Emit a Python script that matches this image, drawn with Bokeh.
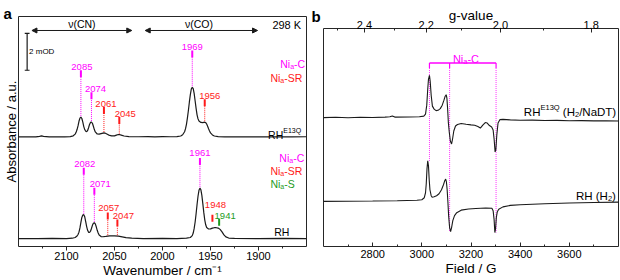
import numpy as np
from bokeh.plotting import figure
from bokeh.layouts import row
from bokeh.models import (Range1d, FixedTicker, CustomJSTickFormatter, LinearAxis,
                          Title, Arrow, NormalHead)
from bokeh.core.properties import value
from bokeh.embed import file_html
from bokeh.resources import INLINE

FONT = "Liberation Sans"
INK = "#1a1a1a"
FRAME = "#262626"
MAGENTA = "#FF00FF"
RED = "#FF1A1A"
GREEN = "#1E9B1E"
STATE_COLOR = {"C": MAGENTA, "SR": RED, "S": GREEN}

# ===================== panel a : IR data =====================
ir_e13q_wn = [2150, 2140, 2132, 2128, 2126, 2124, 2118, 2110, 2102, 2096, 2093, 2091, 2090, 2089,
              2088, 2087, 2086, 2085, 2084, 2083, 2082, 2081, 2080, 2079, 2078, 2077, 2076, 2075,
              2074, 2073, 2072, 2071, 2070, 2068, 2066, 2064, 2062, 2061, 2060, 2058, 2056, 2053,
              2050, 2048, 2046, 2045, 2043, 2040, 2035, 2025, 2015, 2008, 2000, 1992, 1985, 1981,
              1979, 1977, 1976, 1975, 1974, 1973, 1972, 1971, 1970, 1969, 1968, 1967, 1966, 1965,
              1964, 1963, 1962, 1960, 1958, 1956, 1955, 1954, 1953, 1952, 1951, 1950, 1948, 1946,
              1942, 1935, 1920, 1900, 1880, 1865, 1850]
ir_e13q_abs = [0.00, 0.01, 0.00, 0.03, 0.06, 0.03, 0.00, 0.01, 0.00, 0.02, 0.06, 0.15, 0.25, 0.40,
               0.60, 0.85, 1.02, 1.08, 1.00, 0.80, 0.56, 0.40, 0.31, 0.29, 0.35, 0.50, 0.68, 0.79,
               0.81, 0.74, 0.58, 0.40, 0.27, 0.16, 0.15, 0.18, 0.21, 0.22, 0.21, 0.16, 0.10, 0.06,
               0.06, 0.10, 0.13, 0.13, 0.10, 0.05, 0.02, 0.01, 0.02, 0.00, 0.02, 0.01, 0.02, 0.05,
               0.12, 0.28, 0.45, 0.70, 1.05, 1.45, 1.90, 2.30, 2.60, 2.70, 2.62, 2.35, 1.95, 1.55,
               1.20, 0.98, 0.86, 0.79, 0.78, 0.80, 0.78, 0.70, 0.58, 0.44, 0.32, 0.22, 0.11, 0.05,
               0.02, 0.00, 0.01, 0.00, 0.01, 0.00, 0.01]

ir_rh_wn = [2150, 2130, 2115, 2100, 2094, 2091, 2089, 2088, 2087, 2086, 2085, 2084, 2083, 2082,
            2081, 2080, 2079, 2078, 2077, 2076, 2075, 2074, 2073, 2072, 2071, 2070, 2069, 2068,
            2067, 2066, 2064, 2062, 2059, 2055, 2050, 2046, 2042, 2038, 2032, 2020, 2000, 1985,
            1975, 1971, 1969, 1968, 1967, 1966, 1965, 1964, 1963, 1962, 1961, 1960, 1959, 1958,
            1957, 1956, 1955, 1954, 1952, 1950, 1948, 1946, 1944, 1942, 1940, 1938, 1936, 1934,
            1931, 1925, 1900, 1875, 1850]
ir_rh_abs = [0.00, 0.00, 0.01, 0.00, 0.02, 0.06, 0.14, 0.22, 0.35, 0.58, 0.88, 1.15, 1.28, 1.30,
             1.18, 0.92, 0.65, 0.45, 0.34, 0.33, 0.40, 0.55, 0.72, 0.83, 0.86, 0.80, 0.64, 0.45,
             0.30, 0.19, 0.11, 0.10, 0.12, 0.15, 0.15, 0.13, 0.09, 0.05, 0.02, 0.00, 0.01, 0.00,
             0.02, 0.06, 0.16, 0.30, 0.55, 0.90, 1.35, 1.85, 2.30, 2.62, 2.74, 2.65, 2.35, 1.90,
             1.42, 1.02, 0.75, 0.60, 0.52, 0.53, 0.57, 0.59, 0.59, 0.57, 0.50, 0.36, 0.20, 0.09,
             0.03, 0.01, 0.00, 0.01, 0.00]

e13q_peak_wn = [2085, 2074, 2061, 2045, 1969, 1956]
e13q_peak_state = ["C", "C", "SR", "SR", "C", "SR"]
rh_peak_wn = [2082, 2071, 2057, 2047, 1961, 1948, 1941]
rh_peak_state = ["C", "C", "SR", "SR", "C", "SR", "S"]

wn_major = [2100, 2050, 2000, 1950, 1900]
wn_minor = [2125, 2075, 2025, 1975, 1925, 1875]
scale_bar_mod = 2.0

# ===================== panel b : EPR data =====================
epr_e13q_field = [2600, 2650, 2700, 2750, 2800, 2850, 2870, 2880, 2890, 2950, 2990, 3008, 3015,
                  3020, 3024, 3027, 3031, 3034, 3038, 3043, 3050, 3058, 3066, 3075, 3083, 3090,
                  3095, 3099, 3102, 3105, 3108, 3112, 3116, 3121, 3125, 3130, 3137, 3145, 3160,
                  3180, 3200, 3215, 3228, 3238, 3248, 3258, 3266, 3275, 3284, 3290, 3294, 3298,
                  3301, 3305, 3310, 3318, 3330, 3360, 3400, 3450, 3500, 3550, 3600, 3650, 3700,
                  3750, 3800]
epr_e13q_sig = [1.5, 1.8, 1.4, 1.9, 1.6, 2.0, 2.3, 3.2, 2.0, 2.1, 2.4, 3.0, 5.0, 14, 30, 40, 44,
                38, 24, 13, 10, 8.5, 8.8, 10.5, 14, 19, 23, 24.5, 21, 10, -4, -14, -22, -25, -20,
                -12, -7, -5.5, -4.5, -5.2, -5.8, -6.2, -7.5, -9, -6, -3.5, -4, -6.5, -8, -11, -20,
                -33, -31, -16, -4, -0.5, -0.3, -0.8, -1.2, -1.0, -1.4, -1.3, -1.6, -1.5, -1.8,
                -1.7, -1.9]

epr_rh_field = [2600, 2700, 2800, 2900, 2980, 3000, 3010, 3015, 3018, 3021, 3024, 3027, 3030,
                3033, 3038, 3042, 3050, 3060, 3070, 3080, 3088, 3093, 3097, 3100, 3103, 3106,
                3109, 3113, 3117, 3121, 3126, 3133, 3142, 3160, 3190, 3220, 3260, 3285, 3290,
                3294, 3297, 3300, 3303, 3307, 3313, 3330, 3360, 3400, 3500, 3600, 3700, 3800]
epr_rh_sig = [0.3, 0.5, 0.7, 1.0, 1.5, 2.0, 4.0, 9.0, 18, 33, 41, 36, 22, 12, 6.0, 4.5, 5.0,
              6.0, 8.0, 12, 17, 21, 22.7, 20, 12, 0, -14, -26, -30, -26, -19, -14, -11, -8.5,
              -7.3, -6.8, -6.3, -6.6, -9, -18, -31, -27, -16, -10, -7.5, -5.2, -3.7, -3.0, -2.0,
              -1.3, -0.8, -0.4]

nic_field = [3031, 3113, 3302]
field_major = [2800, 3000, 3200, 3400, 3600]
field_minor = [2700, 2900, 3100, 3300, 3500, 3700]
g_major = [2.4, 2.2, 2.0, 1.8]
g_minor = [2.5, 2.3, 2.1, 1.9]
mw_freq_ghz = 9.293
GB = 714.4775 * mw_freq_ghz   # g * B[G]

# ------------------------------------------------------------------
ADV = {"N": 722, "i": 222, "a": 556, "-": 333, "C": 722, "S": 667, "R": 722, "H": 722,
       "E": 667, "1": 556, "3": 556, "Q": 778, " ": 278, "(": 333, ")": 333, "2": 556,
       "/": 278, "D": 722, "T": 611}


def tw(s, size):
    return sum(ADV.get(c, 556) for c in s) * size / 1000.0


def rich(p, x, y, parts, color, align="left"):
    total = sum(tw(t, s) for t, s, _ in parts)
    off = {"left": 0.0, "center": -total / 2.0, "right": -total}[align]
    for t, s, dy in parts:
        lead = len(t) - len(t.lstrip(" "))
        off += tw(" " * lead, s)
        t = t.lstrip(" ")
        p.text(x=[x], y=[y], text=[t], x_offset=off, y_offset=dy,
               text_font=value(FONT), text_font_size=f"{s}px", text_color=color,
               text_align="left", text_baseline="alphabetic")
        off += tw(t, s)


def ni(state, size=10.5, sub=7):
    return [("Ni", size, 0), ("a", sub, 2.5), ("-" + state, size, 0)]


def style_axis(ax, inward, standoff):
    ax.axis_line_color = None
    ax.major_tick_line_color = FRAME
    ax.minor_tick_line_color = FRAME
    if inward:
        ax.major_tick_in, ax.major_tick_out = 4, 0
        ax.minor_tick_in, ax.minor_tick_out = 2, 0
    else:
        ax.major_tick_in, ax.major_tick_out = 0, 4
        ax.minor_tick_in, ax.minor_tick_out = 0, 2
    ax.major_label_text_font = FONT
    ax.major_label_text_font_size = "11px"
    ax.major_label_text_color = "black"
    ax.major_label_standoff = standoff
    ax.axis_label_text_font = FONT
    ax.axis_label_text_font_size = "13.5px"
    ax.axis_label_text_font_style = "normal"
    ax.axis_label_text_color = "black"
    ax.axis_label_standoff = 0


def bare_axis(ax):
    ax.axis_line_color = None
    ax.major_tick_line_color = None
    ax.minor_tick_line_color = None
    ax.major_tick_in = ax.major_tick_out = ax.minor_tick_in = ax.minor_tick_out = 0


# Both panels share a 28 px top border (Bokeh aligns borders in a row); panel a is lifted
# by 12 px so that its frame starts higher than panel b's, as in the original figure.
TOP = 28
LIFT = 12

# ======================= panel a figure =======================
YMAX_A = 12.49
pa = figure(width=323, height=280 + LIFT, x_range=Range1d(2150, 1850),
            y_range=Range1d(0, YMAX_A), output_backend="svg", toolbar_location=None,
            title=None, min_border_left=18, min_border_right=15, min_border_top=TOP,
            min_border_bottom=33, margin=(-LIFT, 0, 0, 0))
pa.grid.visible = False
pa.outline_line_color = FRAME
pa.outline_line_width = 1
pa.xaxis.ticker = FixedTicker(ticks=wn_major, minor_ticks=wn_minor)
style_axis(pa.xaxis[0], inward=False, standoff=1)
pa.xaxis.axis_label = "Wavenumber / cm⁻¹"

ya = pa.yaxis[0]
ya.ticker = FixedTicker(ticks=[])
bare_axis(ya)
ya.major_label_standoff = 0
ya.axis_label = "Absorbance / a.u."
ya.axis_label_text_font = FONT
ya.axis_label_text_font_size = "13px"
ya.axis_label_text_font_style = "normal"
ya.axis_label_text_color = "black"
ya.axis_label_standoff = 0

# panel letters: "a" as a title, "b" as the single tick label of a bare right axis
pa.add_layout(Title(text="a", align="left", offset=-15, standoff=-11, text_font=FONT,
                    text_font_size="15px", text_font_style="bold", text_color="black"),
              "above")
rb = LinearAxis(ticker=FixedTicker(ticks=[YMAX_A]),
                formatter=CustomJSTickFormatter(code='return "b";'))
bare_axis(rb)
rb.major_label_standoff = 5
rb.major_label_text_font = FONT
rb.major_label_text_font_size = "15px"
rb.major_label_text_font_style = "bold"
rb.major_label_text_color = "black"
pa.add_layout(rb, "right")

OFF_E13Q, OFF_RH = 5.95, 0.43
e13q_y = np.array(ir_e13q_abs) + OFF_E13Q
rh_y = np.array(ir_rh_abs) + OFF_RH
pa.line(ir_e13q_wn, e13q_y, line_color=INK, line_width=1.2)
pa.line(ir_rh_wn, rh_y, line_color=INK, line_width=1.2)

# peak markers (layout only)
e13q_mark_top = [9.57, 8.38, 7.57, 7.03, 10.65, 8.0]
e13q_lab_dx = [1, 4, 2, 6, 0, 5]
e13q_lab_gap = [3.5, 3.5, 3.5, 3.5, 3.5, 3.5]
e13q_dotted = [True] * 6
rh_mark_top = [4.27, 3.19, 1.84, 1.46, 4.81, 1.73, 1.51]
rh_lab_dx = [1, 6, 1, 6, 0, 3, 6]
rh_lab_gap = [3.5, 3.5, 5, 4, 4.5, 10, 3]
rh_dotted = [True, True, True, True, True, False, False]
THICK = 0.38


def markers(wns, states, wn_arr, y_arr, tops, dxs, gaps, dotted):
    order = np.argsort(wn_arr)
    for w, st, top, dx, gap, dot in zip(wns, states, tops, dxs, gaps, dotted):
        c = STATE_COLOR[st]
        pa.segment(x0=[w], y0=[top - THICK], x1=[w], y1=[top], line_color=c, line_width=2)
        if dot:
            yp = float(np.interp(w, np.array(wn_arr)[order], np.array(y_arr)[order]))
            pa.segment(x0=[w], y0=[yp + 0.05], x1=[w], y1=[top - THICK], line_color=c,
                       line_width=1, line_dash="1 1")
        pa.text(x=[w], y=[top], text=[str(w)], x_offset=dx, y_offset=-gap,
                text_font=value(FONT), text_font_size="9.5px", text_color=c,
                text_align="center", text_baseline="alphabetic")


markers(e13q_peak_wn, e13q_peak_state, ir_e13q_wn, e13q_y, e13q_mark_top, e13q_lab_dx,
        e13q_lab_gap, e13q_dotted)
markers(rh_peak_wn, rh_peak_state, ir_rh_wn, rh_y, rh_mark_top, rh_lab_dx, rh_lab_gap,
        rh_dotted)

# legends of states
rich(pa, 1877.3, 9.91, ni("C"), MAGENTA)
rich(pa, 1887.6, 9.15, ni("SR"), RED)
rich(pa, 1878.3, 4.83, ni("C"), MAGENTA)
rich(pa, 1887.6, 4.12, ni("SR"), RED)
rich(pa, 1887.6, 3.42, ni("S"), GREEN)

# sample labels
rich(pa, 1890.0, 6.08, [("RH", 10.5, 0), ("E13Q", 7, -4)], "black")
rich(pa, 1883.6, 0.78, [("RH", 10.5, 0)], "black")

# region arrows
for x0, x1, xc, lab in [(2136, 2032, 2084, "ν(CN)"), (2018, 1901, 1962, "ν(CO)")]:
    pa.add_layout(Arrow(x_start=x0, y_start=11.73, x_end=x1, y_end=11.73, line_color=INK,
                        line_width=1,
                        start=NormalHead(size=5, fill_color=INK, line_color=INK),
                        end=NormalHead(size=5, fill_color=INK, line_color=INK)))
    pa.text(x=[xc], y=[12.08], text=[lab], text_font=value(FONT), text_font_size="10.5px",
            text_color="black", text_align="center", text_baseline="middle")
pa.text(x=[1855.6], y=[12.05], text=["298 K"], text_font=value(FONT), text_font_size="11px",
        text_color="black", text_align="right", text_baseline="middle")

# 2 mOD scale bar
SB_X, SB_Y0 = 2141, 9.57
pa.segment(x0=[SB_X], y0=[SB_Y0], x1=[SB_X], y1=[SB_Y0 + scale_bar_mod], line_color=INK,
           line_width=1.2)
pa.segment(x0=[SB_X + 2.5, SB_X + 2.5], y0=[SB_Y0, SB_Y0 + scale_bar_mod],
           x1=[SB_X - 2.5, SB_X - 2.5], y1=[SB_Y0, SB_Y0 + scale_bar_mod], line_color=INK,
           line_width=1.2)
pa.text(x=[2139], y=[SB_Y0 + scale_bar_mod / 2], text=[f"{scale_bar_mod:g} mOD"],
        text_font=value(FONT), text_font_size="8px", text_color="black", text_align="left",
        text_baseline="middle")

# ======================= panel b figure =======================
YMAX_B = 219.0
pb = figure(width=297, height=280, x_range=Range1d(2600, 3800), y_range=Range1d(0, YMAX_B),
            output_backend="svg", toolbar_location=None, y_axis_location=None, title=None,
            min_border_left=0, min_border_right=2, min_border_top=TOP, min_border_bottom=33)
pb.grid.visible = False
pb.outline_line_color = FRAME
pb.outline_line_width = 1
pb.xaxis.ticker = FixedTicker(ticks=field_major, minor_ticks=field_minor)
style_axis(pb.xaxis[0], inward=True, standoff=3)
pb.xaxis.axis_label = "Field / G"

top_ax = LinearAxis(ticker=FixedTicker(ticks=[GB / g for g in g_major],
                                       minor_ticks=[GB / g for g in g_minor]),
                    formatter=CustomJSTickFormatter(code=f"return ({GB:.4f}/tick).toFixed(1);"))
style_axis(top_ax, inward=True, standoff=0)
pb.add_layout(top_ax, "above")
pb.add_layout(Title(text="g-value", align="center", standoff=-10, text_font=FONT,
                    text_font_size="13.5px", text_font_style="normal", text_color="black"),
              "above")

OFF_B_E13Q, OFF_B_RH = 128.0, 45.0
b_e13q_y = np.array(epr_e13q_sig) + OFF_B_E13Q
b_rh_y = np.array(epr_rh_sig) + OFF_B_RH

# Ni-C bracket and guide lines
BR_Y = 184.3
pb.segment(x0=[nic_field[0]], y0=[BR_Y], x1=[nic_field[-1]], y1=[BR_Y], line_color=MAGENTA,
           line_width=1.5)
rh_f = np.array(epr_rh_field)
for i, f in enumerate(nic_field):
    win = np.abs(rh_f - f) <= 10
    yend = b_rh_y[win].max() if i == 0 else b_rh_y[win].min()
    pb.segment(x0=[f], y0=[BR_Y], x1=[f], y1=[BR_Y - 5], line_color=MAGENTA, line_width=1.2)
    pb.segment(x0=[f], y0=[BR_Y - 5], x1=[f], y1=[yend], line_color=MAGENTA, line_width=0.8,
               line_dash="1 1")
rich(pb, (nic_field[0] + nic_field[-1]) / 2 + 13, 188.0, ni("C", 11, 7.5), MAGENTA,
     align="center")

pb.line(epr_e13q_field, b_e13q_y, line_color=INK, line_width=1.1)
pb.line(epr_rh_field, b_rh_y, line_color=INK, line_width=1.1)

rich(pb, 3415, 135.0, [("RH", 11.5, 0), ("E13Q", 7.5, -4.5), (" (H", 11.5, 0), ("2", 7.5, 2.5),
                       ("/NaDT)", 11.5, 0)], "black")
rich(pb, 3627, 51.0, [("RH", 11.5, 0), (" (H", 11.5, 0), ("2", 7.5, 2.5), (")", 11.5, 0)],
     "black")

layout = row(pa, pb)
open("out.html", "w").write(file_html(layout, INLINE))
